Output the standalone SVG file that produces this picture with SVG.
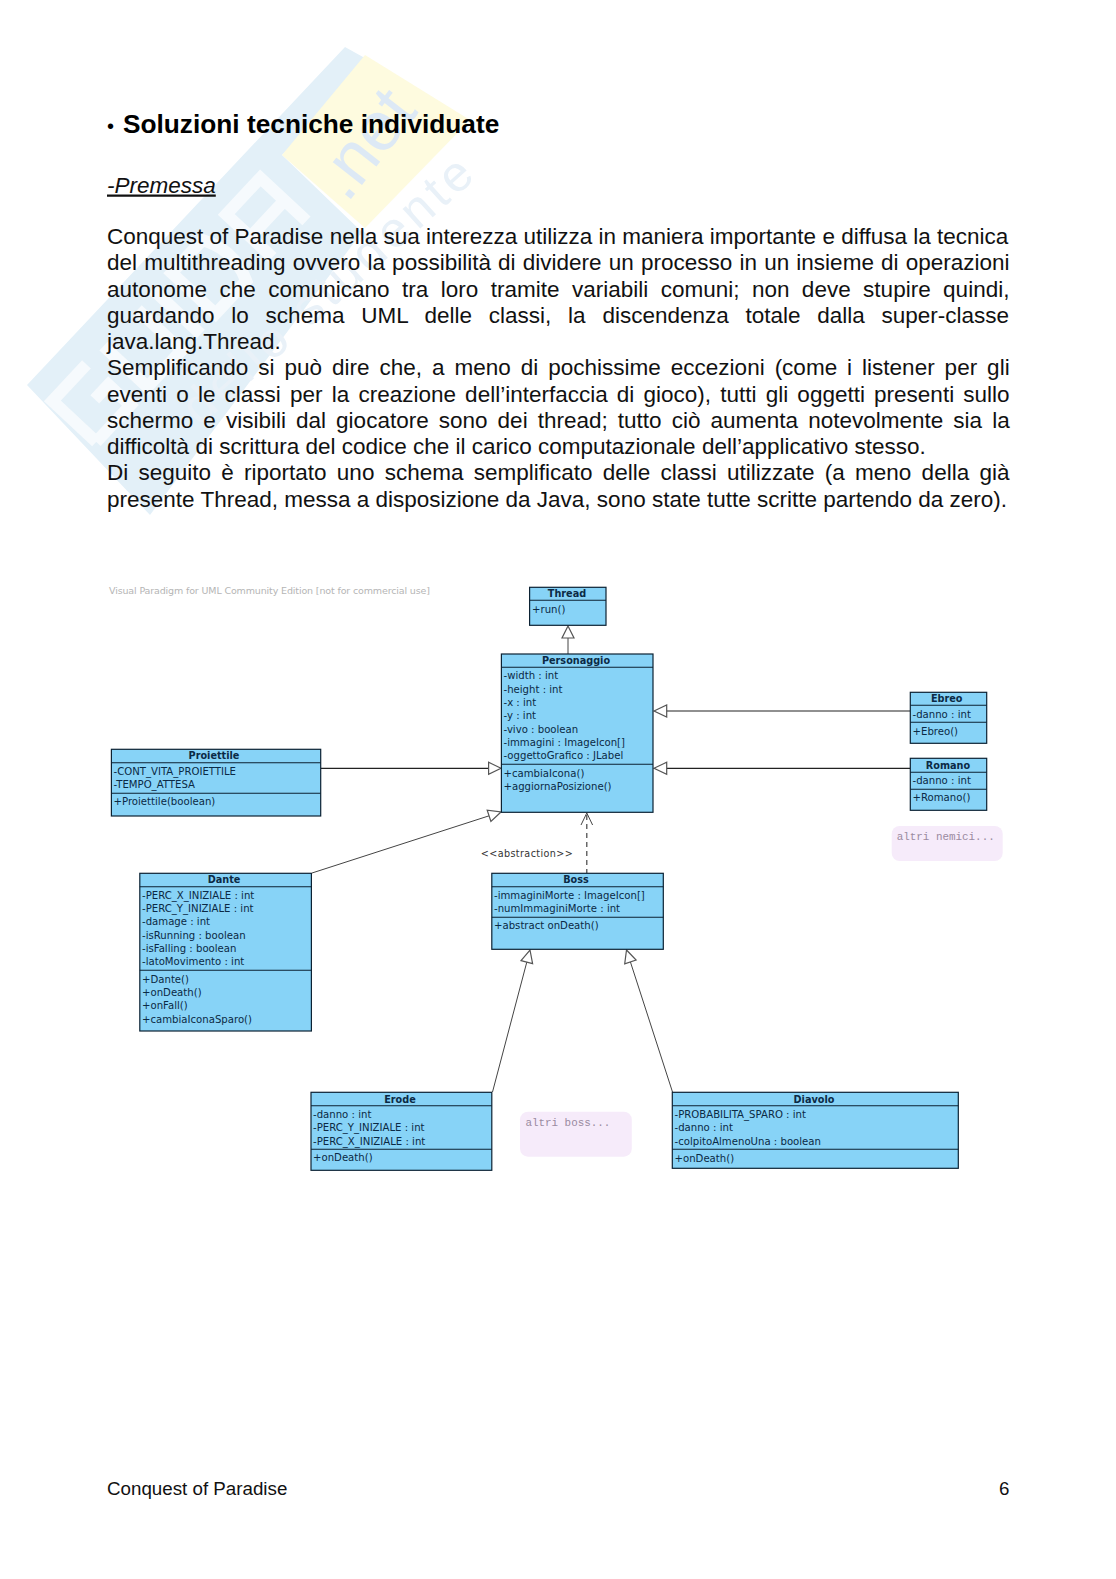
<svg xmlns="http://www.w3.org/2000/svg" width="1116" height="1579" viewBox="0 0 1116 1579">
<style>
.b{font:22.5px "Liberation Sans",Arial,sans-serif;fill:#111}
.f{font:18.75px "Liberation Sans",Arial,sans-serif;fill:#111}
.box{fill:#87d3f7;stroke:#0c2233;stroke-width:1.2}
.sep{stroke:#0c2233;stroke-width:1.1;fill:none}
.t{font:bold 9.7px "DejaVu Sans",sans-serif;fill:#0b2a45;text-anchor:middle}
.r{font:10.15px "DejaVu Sans",sans-serif;fill:#0b2a45}
.line{stroke:#222;stroke-width:1.2;fill:none}
.diag{stroke:#444;stroke-width:1;fill:none}
.dash{stroke:#444;stroke-width:1.2;fill:none;stroke-dasharray:5 4}
.head{fill:#fff;stroke:#555;stroke-width:1.2}
.note{fill:#f6ebfa}
.nt{font:10.9px "Liberation Mono","Courier New",monospace;fill:#9a8aa0}
.wm{stroke:#f6fafd;stroke-width:12;fill:none}
</style>
<rect width="1116" height="1579" fill="#fff"/>
<g id="watermark">
<polygon points="27,385 345,47 372,62 282,155 362,232 150,515" fill="#e3f0f8"/>
<polygon points="365,55 470,120 365,228 282,155" fill="#fefbdf"/>
<g transform="rotate(-47 190 290)">
<path class="wm" d="M15 325V265H65M15 325H65V295H45"/>
<path class="wm" d="M90 265V325H140V265"/>
<path class="wm" d="M165 262V328"/>
<path class="wm" d="M190 265V325H235Q250 295 235 265Z"/>
<path class="wm" d="M270 328V265H320V328M270 298H320"/>
</g>
<text transform="translate(347 204) rotate(-52)" font-family="Liberation Sans,sans-serif" font-size="70" fill="#dde9f5">.net</text>
<text transform="translate(200 427) rotate(-42)" font-family="Liberation Sans,sans-serif" font-size="50" fill="#e9f1f8" textLength="372">dello studente</text>
</g>
<g id="page-text">
<text x="107" y="132.5" font-family="Liberation Sans,Arial,sans-serif" font-size="20" fill="#000">•</text>
<text x="123" y="132.5" font-family="Liberation Sans,Arial,sans-serif" font-weight="bold" font-size="26.25" fill="#000">Soluzioni tecniche individuate</text>
<text x="107" y="192.5" font-family="Liberation Sans,Arial,sans-serif" font-style="italic" font-size="22.5" fill="#111" text-decoration="underline">-Premessa</text>
<text class="b" x="107" y="244">Conquest of Paradise nella sua interezza utilizza in maniera importante e diffusa la tecnica</text>
<text class="b" x="107" y="270.25" word-spacing=".93">del multithreading ovvero la possibilità di dividere un processo in un insieme di operazioni</text>
<text class="b" x="107" y="296.5" word-spacing="6.2">autonome che comunicano tra loro tramite variabili comuni; non deve stupire quindi,</text>
<text class="b" x="107" y="322.75" word-spacing="10.5">guardando lo schema UML delle classi, la discendenza totale dalla super-classe</text>
<text class="b" x="107" y="349">java.lang.Thread.</text>
<text class="b" x="107" y="375.25" word-spacing="3.73">Semplificando si può dire che, a meno di pochissime eccezioni (come i listener per gli</text>
<text class="b" x="107" y="401.5" word-spacing="2.92">eventi o le classi per la creazione dell’interfaccia di gioco), tutti gli oggetti presenti sullo</text>
<text class="b" x="107" y="427.75" word-spacing="3.82">schermo e visibili dal giocatore sono dei thread; tutto ciò aumenta notevolmente sia la</text>
<text class="b" x="107" y="454">difficoltà di scrittura del codice che il carico computazionale dell’applicativo stesso.</text>
<text class="b" x="107" y="480.25" word-spacing="4">Di seguito è riportato uno schema semplificato delle classi utilizzate (a meno della già</text>
<text class="b" x="107" y="506.5">presente Thread, messa a disposizione da Java, sono state tutte scritte partendo da zero).</text>
<text class="f" x="107" y="1495">Conquest of Paradise</text>
<text class="f" x="1009.5" y="1495" text-anchor="end">6</text>
<text x="109" y="594" font-family="DejaVu Sans,sans-serif" font-size="9.5" fill="#b5b5b5" textLength="321">Visual Paradigm for UML Community Edition [not for commercial use]</text>
</g>
<g id="connectors">
<line class="diag" x1="568" y1="638" x2="568" y2="654"/><polygon class="head" points="568,626 562,638 574,638"/>
<line class="line" x1="321" y1="768.3" x2="489" y2="768.3"/><polygon class="head" points="501,768.3 488.6,762.3 488.6,774.3"/>
<line class="line" x1="666" y1="711" x2="910" y2="711"/><polygon class="head" points="654,711 666.7,705 666.7,717"/>
<line class="line" x1="666" y1="768.3" x2="910" y2="768.3"/><polygon class="head" points="654,768.3 666.7,762.3 666.7,774.3"/>
<line class="diag" x1="312" y1="873" x2="489.1" y2="815.8"/><polygon class="head" points="501,812 490.9,821.5 487.2,810.1"/>
<line class="dash" x1="586.8" y1="815" x2="586.8" y2="873"/><path class="diag" d="M581 825L586.8 813L592.6 825"/>
<text x="527" y="856.5" font-family="DejaVu Sans,sans-serif" font-size="9.6" fill="#333" text-anchor="middle" letter-spacing=".4">&lt;&lt;abstraction&gt;&gt;</text>
<line class="diag" x1="492.5" y1="1092" x2="526.8" y2="962.1"/><polygon class="head" points="530,950 532.6,963.6 521,960.6"/>
<line class="diag" x1="672.5" y1="1092" x2="630.4" y2="961.9"/><polygon class="head" points="626.5,950 636.1,960 624.7,963.8"/>
</g>
<g id="Thread"><rect class="box" x="529.6" y="587.3" width="76.4" height="38"/><path class="sep" d="M529.6 600.3H606"/><text class="t" x="567" y="597.3">Thread</text><text class="r" x="532" y="612.6">+run()</text></g>
<g id="Personaggio"><rect class="box" x="501.4" y="654" width="151.6" height="158.3"/><path class="sep" d="M501.4 667.3H653M501.4 764.3H653"/><text class="t" x="576" y="663.6">Personaggio</text>
<text class="r" x="503.5" y="679.3">-width : int</text><text class="r" x="503.5" y="692.6">-height : int</text><text class="r" x="503.5" y="705.9">-x : int</text><text class="r" x="503.5" y="719.3">-y : int</text><text class="r" x="503.5" y="732.6">-vivo : boolean</text><text class="r" x="503.5" y="745.9">-immagini : ImageIcon[]</text><text class="r" x="503.5" y="759.3">-oggettoGrafico : JLabel</text><text class="r" x="503.5" y="776.6">+cambiaIcona()</text><text class="r" x="503.5" y="789.9">+aggiornaPosizione()</text></g>
<g id="Proiettile"><rect class="box" x="111.4" y="749.3" width="209.3" height="66.7"/><path class="sep" d="M111.4 762.7H320.7M111.4 793.3H320.7"/><text class="t" x="214" y="759.3">Proiettile</text><text class="r" x="113.5" y="774.6">-CONT_VITA_PROIETTILE</text><text class="r" x="113.5" y="787.9">-TEMPO_ATTESA</text><text class="r" x="113.5" y="804.9">+Proiettile(boolean)</text></g>
<g id="Ebreo"><rect class="box" x="910.3" y="692.3" width="76.4" height="51"/><path class="sep" d="M910.3 705.3H986.7M910.3 722.3H986.7"/><text class="t" x="946.7" y="702.3">Ebreo</text><text class="r" x="912.5" y="717.6">-danno : int</text><text class="r" x="912.5" y="734.6">+Ebreo()</text></g>
<g id="Romano"><rect class="box" x="910.3" y="758.3" width="76.4" height="52"/><path class="sep" d="M910.3 772.3H986.7M910.3 789.3H986.7"/><text class="t" x="948" y="768.9">Romano</text><text class="r" x="912.5" y="783.9">-danno : int</text><text class="r" x="912.5" y="800.9">+Romano()</text></g>
<g id="note-nemici"><rect class="note" x="891.7" y="826" width="111" height="35" rx="8"/><text class="nt" x="896.7" y="840">altri nemici...</text></g>
<g id="Dante"><rect class="box" x="139.8" y="873.3" width="171.6" height="157.7"/><path class="sep" d="M139.8 886.7H311.4M139.8 970.3H311.4"/><text class="t" x="224" y="882.9">Dante</text>
<text class="r" x="142" y="898.6">-PERC_X_INIZIALE : int</text><text class="r" x="142" y="911.9">-PERC_Y_INIZIALE : int</text><text class="r" x="142" y="925.3">-damage : int</text><text class="r" x="142" y="938.6">-isRunning : boolean</text><text class="r" x="142" y="951.9">-isFalling : boolean</text><text class="r" x="142" y="965.3">-latoMovimento : int</text><text class="r" x="142" y="982.6">+Dante()</text><text class="r" x="142" y="995.9">+onDeath()</text><text class="r" x="142" y="1009.3">+onFall()</text><text class="r" x="142" y="1022.6">+cambiaIconaSparo()</text></g>
<g id="Boss"><rect class="box" x="491.8" y="873.3" width="171.5" height="76"/><path class="sep" d="M491.8 886.7H663.3M491.8 917.3H663.3"/><text class="t" x="576" y="882.9">Boss</text><text class="r" x="494" y="898.6">-immaginiMorte : ImageIcon[]</text><text class="r" x="494" y="911.9">-numImmaginiMorte : int</text><text class="r" x="494" y="928.9">+abstract onDeath()</text></g>
<g id="Erode"><rect class="box" x="311" y="1092.3" width="180.8" height="78"/><path class="sep" d="M311 1105.7H491.8M311 1149.3H491.8"/><text class="t" x="400" y="1102.6">Erode</text><text class="r" x="313" y="1117.9">-danno : int</text><text class="r" x="313" y="1131.2">-PERC_Y_INIZIALE : int</text><text class="r" x="313" y="1144.6">-PERC_X_INIZIALE : int</text><text class="r" x="313" y="1161.3">+onDeath()</text></g>
<g id="note-boss"><rect class="note" x="520" y="1111.7" width="111.8" height="45" rx="8"/><text class="nt" x="525.4" y="1126">altri boss...</text></g>
<g id="Diavolo"><rect class="box" x="672.3" y="1092.3" width="286" height="76"/><path class="sep" d="M672.3 1105.7H958.3M672.3 1149.3H958.3"/><text class="t" x="814" y="1102.6">Diavolo</text><text class="r" x="674.5" y="1117.6">-PROBABILITA_SPARO : int</text><text class="r" x="674.5" y="1131">-danno : int</text><text class="r" x="674.5" y="1144.6">-colpitoAlmenoUna : boolean</text><text class="r" x="674.5" y="1161.9">+onDeath()</text></g>
</svg>
